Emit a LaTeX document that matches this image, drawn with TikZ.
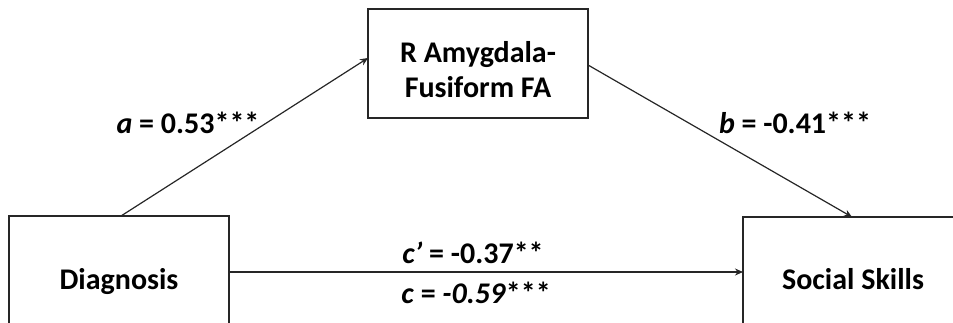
\documentclass[tikz,border=0pt]{standalone}
\usepackage{fontspec}
\setmainfont{Carlito}
\usetikzlibrary{arrows.meta}
\begin{document}
\begin{tikzpicture}[x=1pt,y=-1pt,
  box/.style={draw=black!85,line width=1.4pt,minimum width=220pt,inner sep=0pt,align=center,font=\fontsize{30}{35}\selectfont\bfseries},
  boxtext/.style={align=center,inner sep=0pt,font=\fontsize{30}{35}\selectfont\bfseries},
  conn/.style={draw=black!85,line width=1.2pt,-{Stealth[length=8pt,width=7pt]}},
  lab/.style={font=\fontsize{30}{34}\selectfont\bfseries}]
\useasboundingbox (0,0) rectangle (953,323);
\begin{scope}
\clip (0,0) rectangle (953,323);
\node[box,minimum height=109pt,label={[boxtext,yshift=-6pt]center:R Amygdala-\\Fusiform FA}] (m) at (478,63.5) {};
\node[box,minimum height=126pt,label={[boxtext,yshift=-3pt]center:Diagnosis}] (x) at (119,279) {};
\node[box,minimum height=124pt] (y) at (853,279) {Social Skills};
\coordinate (xa) at (121,216);
\coordinate (ma) at (368,58);
\coordinate (mb) at (588,65);
\coordinate (yb) at (852,217);
\coordinate (xc) at (229,272);
\coordinate (yc) at (743,272);
\draw[conn] (xa) -- (ma);
\draw[conn] (mb) -- (yb);
\draw[conn] (xc) -- (yc);
\node[lab] (la) at (188,123) {\textit{a} = 0.53***};
\node[lab] (lb) at (795,123) {\textit{b} = -0.41***};
\node[lab] (lc1) at (473,253) {\textit{c’} = -0.37**};
\node[lab] (lc2) at (476,293) {\textit{c} = \textit{-0.59}***};
\end{scope}
\end{tikzpicture}
\end{document}
